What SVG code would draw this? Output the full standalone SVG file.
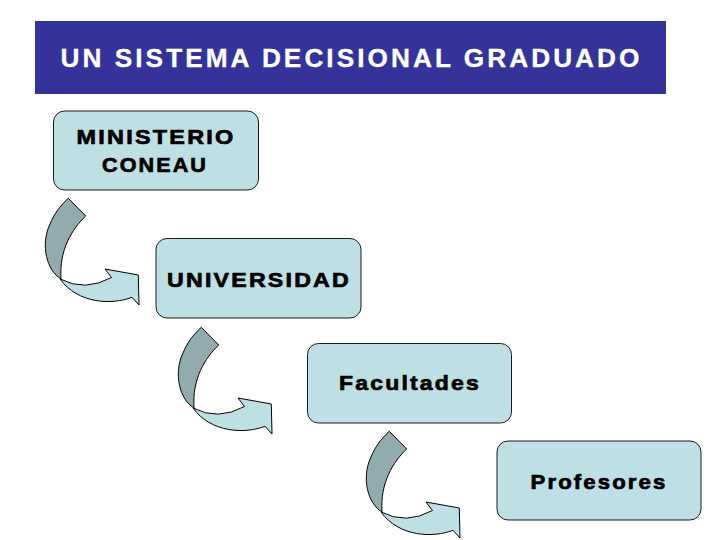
<svg xmlns="http://www.w3.org/2000/svg" xmlns:xlink="http://www.w3.org/1999/xlink" width="720" height="540" viewBox="0 0 720 540">
  <style>
    .box { fill: #bee0e4; stroke: #1a1a1a; stroke-width: 1; }
    .lbl { font-family: "Liberation Sans", Arial, sans-serif; font-weight: bold; font-size: 21px; letter-spacing: 2px; fill: #000; stroke: #000; stroke-width: 0.7; text-anchor: middle; }
    .title { font-family: "Liberation Sans", Arial, sans-serif; font-weight: bold; font-size: 26px; letter-spacing: 3px; fill: #ffffff; stroke: #ffffff; stroke-width: 0.3; text-anchor: middle; }
    .back { fill: #92abae; stroke: #000; stroke-width: 1; }
    .front { fill: #bee0e4; stroke: #000; stroke-width: 1; }
  </style>
  <defs>
    <g id="curveArrow">
      <path class="front" d="M60,279 Q85,292 111.5,277.5 L105,269 L138.3,275 L139,305 L132,297.3 C112,305 78,304 60,279 Z"/>
      <path class="back" d="M68.3,198.3 L85.7,216 C72,229 59,250 61,279 C47,271 40,245 50,224 C54,214 60,206 68.3,198.3 Z"/>
    </g>
  </defs>
  <rect width="720" height="540" fill="#ffffff"/>

  <g id="title">
    <rect x="35" y="21" width="631" height="73" fill="#333399"/>
    <text class="title" x="351.5" y="66.5" textLength="582" lengthAdjust="spacingAndGlyphs">UN SISTEMA DECISIONAL GRADUADO</text>
  </g>

  <g id="connectors">
    <use xlink:href="#curveArrow" href="#curveArrow"/>
    <use xlink:href="#curveArrow" href="#curveArrow" transform="translate(133,129)"/>
    <use xlink:href="#curveArrow" href="#curveArrow" transform="translate(321,233)"/>
  </g>

  <g id="ministerio">
    <rect class="box" x="53.5" y="111" width="205" height="79" rx="11"/>
    <text class="lbl" x="156" y="143.5" textLength="159" lengthAdjust="spacingAndGlyphs">MINISTERIO</text>
    <text class="lbl" x="155" y="172" textLength="106" lengthAdjust="spacingAndGlyphs">CONEAU</text>
  </g>

  <g id="universidad">
    <rect class="box" x="156" y="238.5" width="205" height="79.5" rx="11"/>
    <text class="lbl" x="259" y="287" textLength="184" lengthAdjust="spacingAndGlyphs">UNIVERSIDAD</text>
  </g>

  <g id="facultades">
    <rect class="box" x="307.5" y="343.5" width="204" height="79.5" rx="11"/>
    <text class="lbl" x="410" y="390" textLength="142" lengthAdjust="spacingAndGlyphs">Facultades</text>
  </g>

  <g id="profesores">
    <rect class="box" x="497" y="441" width="204" height="79" rx="11"/>
    <text class="lbl" x="599" y="489" textLength="137" lengthAdjust="spacingAndGlyphs">Profesores</text>
  </g>
</svg>
